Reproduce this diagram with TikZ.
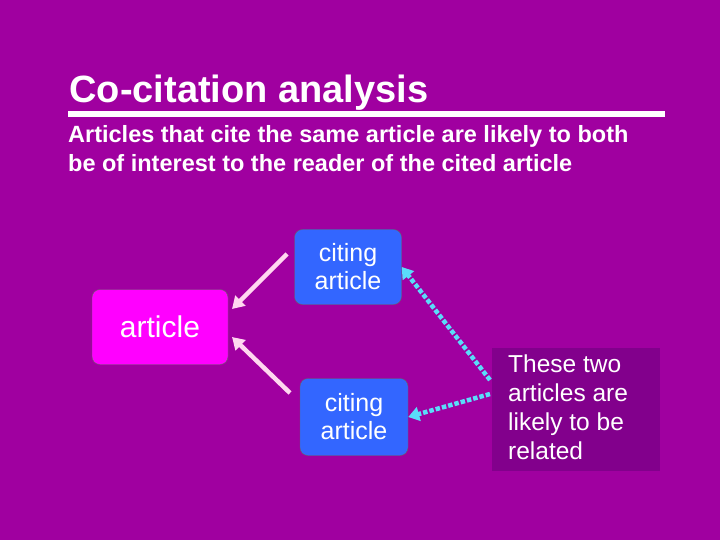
\documentclass[tikz,border=0pt]{standalone}
\usepackage{fontspec}
\setmainfont{Liberation Sans}
\usetikzlibrary{positioning,arrows.meta}
\definecolor{slidepurple}{RGB}{160,0,160}
\definecolor{notepurple}{RGB}{130,0,140}
\definecolor{boxmagenta}{RGB}{255,0,255}
\definecolor{boxblue}{RGB}{51,102,255}
\definecolor{linkpink}{RGB}{255,215,240}
\definecolor{linkcyan}{RGB}{90,220,250}
\begin{document}
\begin{tikzpicture}[x=1pt, y=-1pt,
    artbox/.style={draw=black!60, rounded corners=8pt, text=white, align=center, inner sep=0pt},
    citearrow/.style={linkpink, line width=4.5pt, -{Triangle[length=12pt,width=14pt]}},
    relarrow/.style={linkcyan, line width=4.5pt, dotted, -{Triangle[length=11pt,width=14pt]}}]
    \fill[slidepurple] (0,0) rectangle (720,540);
    % Title
    \node[anchor=base west, text=white, font=\bfseries\fontsize{38}{40}\selectfont] (title) at (66,103) {Co-citation analysis};
    \draw[white, line width=6pt] (68,114) -- (665,114);
    \node[anchor=north west, text=white, align=left, inner sep=0pt, font=\bfseries\fontsize{23.5}{29}\selectfont] (intro) at (68,125)
        {Articles that cite the same article are likely to both\\be of interest to the reader of the cited article};
    % Boxes
    \node[artbox, fill=boxmagenta, minimum width=136pt, minimum height=75pt] (cited) at (160,327) {};
    \node[text=white, font=\fontsize{30}{32}\selectfont] at (160,327) {article};
    \node[artbox, fill=boxblue, minimum width=107pt, minimum height=75pt, font=\fontsize{25}{28}\selectfont] (citeA) at (348,267) {citing\\article};
    \node[artbox, fill=boxblue, minimum width=108pt, minimum height=77pt, font=\fontsize{25}{28}\selectfont] (citeB) at (354,417) {citing\\article};
    \node[fill=notepurple, minimum width=168pt, minimum height=123pt] (note) at (576,409.5) {};
    \node[anchor=north west, text=white, align=left, inner sep=0pt, font=\fontsize{24.5}{28.8}\selectfont] at (508,355)
        {These two\\articles are\\likely to be\\related};
    % Arrows
    \coordinate (noteA) at (490,380);
    \coordinate (noteB) at (490,394);
    \draw[citearrow] (287,254) -- (232,309);
    \draw[citearrow] (290,393) -- (232,337);
    \draw[relarrow] (noteA) -- (citeA.east);
    \draw[relarrow] (noteB) -- (citeB.east);
\end{tikzpicture}
\end{document}
